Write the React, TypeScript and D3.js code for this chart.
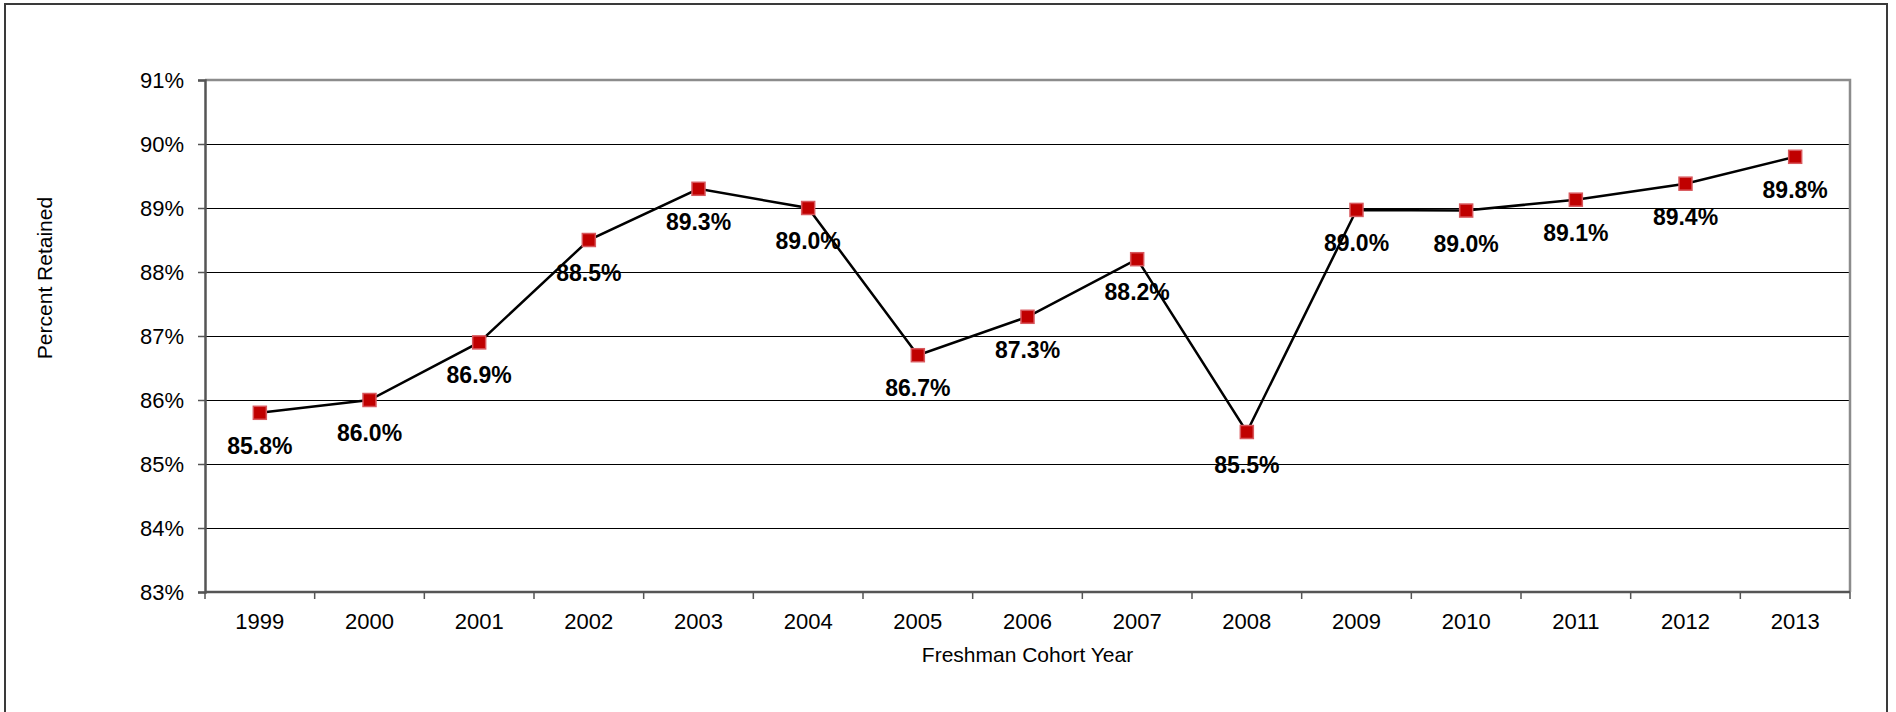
import { useEffect, useRef } from 'react'
import * as d3 from 'd3'

const WIDTH = 1896
const HEIGHT = 712
const MARGIN = { top: 80, right: 46, bottom: 120, left: 205 }
const FONT = '"Liberation Sans", Arial, sans-serif'

const YEARS = ['1999', '2000', '2001', '2002', '2003', '2004', '2005', '2006', '2007', '2008', '2009', '2010', '2011', '2012', '2013']
const RETAINED = [85.8, 86.0, 86.9, 88.5, 89.3, 89.0, 86.7, 87.3, 88.2, 85.5, 88.97, 88.96, 89.13, 89.38, 89.8]
const Y_TICKS = [83, 84, 85, 86, 87, 88, 89, 90, 91]

export default function App() {
  const svgRef = useRef<SVGSVGElement>(null)

  useEffect(() => {
    const svgEl = svgRef.current
    if (!svgEl) return

    const innerWidth = WIDTH - MARGIN.left - MARGIN.right
    const innerHeight = HEIGHT - MARGIN.top - MARGIN.bottom

    const svg = d3.select(svgEl)
    svg.selectAll('*').remove()

    // outer chart frame (bottom edge runs off the picture)
    svg.append('rect')
      .attr('x', 5).attr('y', 4).attr('width', 1882).attr('height', 740)
      .attr('fill', 'white').attr('stroke', '#3a3a3a').attr('stroke-width', 2)

    const g = svg.append('g').attr('transform', `translate(${MARGIN.left},${MARGIN.top})`)

    // ── Scales ────────────────────────────────────────────────────────────────
    const x = d3.scaleBand<string>().domain(YEARS).range([0, innerWidth]).padding(0)
    const y = d3.scaleLinear([83, 91], [innerHeight, 0])
    const cx = (d: string) => (x(d) ?? 0) + x.bandwidth() / 2

    // ── Grid ──────────────────────────────────────────────────────────────────
    g.append('g')
      .call(d3.axisLeft(y).tickValues(Y_TICKS.slice(1, -1)).tickSize(-innerWidth).tickFormat(() => ''))
      .call(ag => ag.select('.domain').remove())
      .call(ag => ag.selectAll('.tick line').attr('stroke', '#000').attr('stroke-width', 1.2))

    // plot border (top/right)
    g.append('path')
      .attr('d', `M0,0H${innerWidth}V${innerHeight}`)
      .attr('fill', 'none').attr('stroke', '#8c8c8c').attr('stroke-width', 2.5)

    // ── Axes ──────────────────────────────────────────────────────────────────
    g.append('g')
      .call(d3.axisLeft(y).tickValues(Y_TICKS).tickSize(7).tickPadding(14).tickFormat(d => `${d}%`))
      .call(ag => ag.select('.domain').attr('stroke', '#555').attr('stroke-width', 2.5))
      .call(ag => ag.selectAll('.tick line').attr('stroke', '#555').attr('stroke-width', 1.5))
      .call(ag => ag.selectAll('text').attr('fill', '#000').attr('font-size', 22).attr('font-family', FONT))

    const xAxis = g.append('g').attr('transform', `translate(0,${innerHeight})`)
    xAxis.append('path')
      .attr('d', `M0,0H${innerWidth}`)
      .attr('stroke', '#555').attr('stroke-width', 2.5)
    xAxis.selectAll('line.tick')
      .data(d3.range(YEARS.length + 1))
      .join('line')
      .attr('class', 'tick')
      .attr('x1', i => i * x.bandwidth()).attr('x2', i => i * x.bandwidth())
      .attr('y1', 0).attr('y2', 7)
      .attr('stroke', '#555').attr('stroke-width', 1.5)
    xAxis.selectAll('text')
      .data(YEARS)
      .join('text')
      .attr('x', d => cx(d)).attr('y', 37)
      .attr('text-anchor', 'middle')
      .attr('font-size', 22).attr('font-family', FONT).attr('fill', '#000')
      .text(d => d)

    // axis titles
    g.append('text')
      .attr('x', innerWidth / 2).attr('y', innerHeight + 70)
      .attr('text-anchor', 'middle').attr('font-size', 21).attr('font-family', FONT)
      .text('Freshman Cohort Year')

    g.append('text')
      .attr('transform', 'rotate(-90)')
      .attr('x', -(278 - MARGIN.top)).attr('y', 45 - MARGIN.left + 7)
      .attr('text-anchor', 'middle').attr('font-size', 21).attr('font-family', FONT)
      .text('Percent Retained')

    // ── Line + markers ────────────────────────────────────────────────────────
    const points = YEARS.map((yr, i) => ({ yr, v: RETAINED[i] }))

    g.append('path')
      .datum(points)
      .attr('d', d3.line<{ yr: string; v: number }>().x(d => cx(d.yr)).y(d => y(d.v)))
      .attr('fill', 'none').attr('stroke', '#000').attr('stroke-width', 2.5)

    const S = 13
    g.selectAll('rect.marker')
      .data(points)
      .join('rect')
      .attr('class', 'marker')
      .attr('x', d => cx(d.yr) - S / 2).attr('y', d => y(d.v) - S / 2)
      .attr('width', S).attr('height', S)
      .attr('fill', '#c00000').attr('stroke', '#d8575c').attr('stroke-width', 1.5)

    // ── Data labels ──────────────────────────────────────────────────────────
    g.selectAll('text.label')
      .data(points)
      .join('text')
      .attr('class', 'label')
      .attr('x', d => cx(d.yr)).attr('y', d => y(d.v) + 41)
      .attr('text-anchor', 'middle')
      .attr('font-size', 23).attr('font-weight', 'bold').attr('font-family', FONT)
      .attr('fill', '#000')
      .text(d => `${d.v.toFixed(1)}%`)
  }, [])

  return (
    <svg
      ref={svgRef}
      width={WIDTH}
      height={HEIGHT}
      style={{ position: 'absolute', left: 0, top: 0, display: 'block', background: 'white' }}
    />
  )
}
